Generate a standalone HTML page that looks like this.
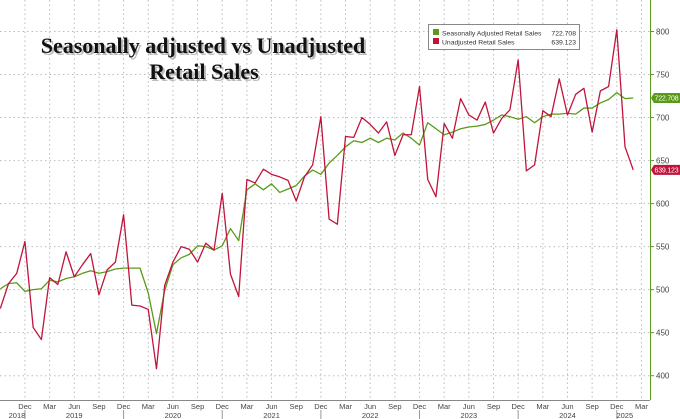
<!DOCTYPE html>
<html><head><meta charset="utf-8">
<style>
body{margin:0;background:#fff;}
svg{display:block;font-family:"Liberation Sans",sans-serif;}
</style></head>
<body>
<svg id="chart" width="680" height="419" viewBox="0 0 680 419" xmlns="http://www.w3.org/2000/svg">
<g id="grid"></g>
<g id="axes"></g>
<g id="series"></g>
<g font-family="'Liberation Serif',serif" font-weight="bold" font-size="22" text-anchor="middle">
<text x="203" y="53" fill="#bbb" transform="translate(2,2)">Seasonally adjusted vs Unadjusted</text>
<text x="203" y="53" fill="#111">Seasonally adjusted vs Unadjusted</text>
<text x="204" y="79" fill="#bbb" transform="translate(2,2)">Retail Sales</text>
<text x="204" y="79" fill="#111">Retail Sales</text>
</g>
<g>
<rect x="428.5" y="24.5" width="151" height="25" fill="#fff" stroke="#888"/>
<g>
<rect x="433" y="29" width="6" height="6" fill="#5a9a1a"/>
<text x="442" y="35.5" font-size="6.8" fill="#333">Seasonally Adjusted Retail Sales</text>
<text x="576" y="35.5" font-size="6.8" fill="#333" text-anchor="end">722.708</text>
</g>
<g>
<rect x="433" y="38" width="6" height="6" fill="#c0143c"/>
<text x="442" y="44.5" font-size="6.8" fill="#333">Unadjusted Retail Sales</text>
<text x="576" y="44.5" font-size="6.8" fill="#333" text-anchor="end">639.123</text>
</g>
</g>
</svg>
<script>
const adjusted=[501,507,508,498,500,501,511,509,513,515,519,522,519,521,524,525,525,525,496,449,499,529,537,541,551,550,546,551,571,557,616,623,616,623,613,617,621,632,639,634,647,656,666,673,671,676,671,676,674,682,676,668,694,687,680,683,687,689,690,692,697,703,701,698,701,694,701,704,704,705,704,711,711,717,721,729,722,722.708];
const unadjusted=[478,507,519,556,456,442,514,506,544,515,529,542,494,523,532,587,482,481,477,408,505,532,550,547,532,554,546,612,518,492,628,624,640,634,631,627,603,631,645,701,582,576,678,677,700,692,682,695,656,680,680,736,628,608,693,676,722,703,697,718,682,699,709,767,638,645,708,701,745,703,727,734,683,731,736,802,666,639.123];
const yTicks=[400,450,500,550,600,650,700,750,800];
const monthLabels=["Dec","Mar","Jun","Sep","Dec","Mar","Jun","Sep","Dec","Mar","Jun","Sep","Dec","Mar","Jun","Sep","Dec","Mar","Jun","Sep","Dec","Mar","Jun","Sep","Dec","Mar"];
const yearLabels=["2018","2019","2020","2021","2022","2023","2024","2025"];
const NS="http://www.w3.org/2000/svg";
function xPos(i){return 0.3+i*8.22;}
function yPos(v){return 31.5+(800-v)*0.8605;}
function mk(tag,attrs,parent){const e=document.createElementNS(NS,tag);for(const k in attrs)e.setAttribute(k,attrs[k]);parent.appendChild(e);return e;}
const grid=document.getElementById('grid'),axes=document.getElementById('axes'),series=document.getElementById('series');
yTicks.forEach(v=>{
  const l=mk('line',{x1:0,x2:650,y1:yPos(v),y2:yPos(v),stroke:'#bbb','stroke-dasharray':'1.5,3'},grid);
  
  
  const t=mk('line',{x1:650,x2:654,y1:yPos(v),y2:yPos(v),stroke:'#5a9a1a'},axes);
  
  
  const tx=mk('text',{x:656,y:yPos(v)+3,'font-size':8,fill:'#444'},axes);
  tx.textContent=v;
  
  
});
monthLabels.forEach((m,k)=>{
  const i=3+k*3,x=xPos(i);
  const g=mk('line',{x1:x,x2:x,y1:0,y2:400,stroke:'#bbb','stroke-dasharray':'1.5,3'},grid);
  
  
  const t=mk('text',{x:x,y:409,'font-size':7.5,fill:'#444','text-anchor':'middle'},axes);
  t.textContent=m;
  
  
});
yearLabels.forEach((y,k)=>{
  let x;
  if(k===0) x=xPos(3)-8;
  else if(k===7) x=xPos(75)+8;
  else x=(xPos(3+12*(k-1))+xPos(3+12*k))/2;
  const t=mk('text',{x:x,y:418,'font-size':7.5,fill:'#444','text-anchor':'middle'},axes);
  t.textContent=y;
  
  
  if(k<7){const sx=xPos(3+12*k);
    const s=mk('line',{x1:sx,x2:sx,y1:410,y2:419,stroke:'#999'},axes);
    
    }
});
const xa=mk('line',{x1:0,x2:650,y1:400.5,y2:400.5,stroke:'#888'},axes);


const ya=mk('line',{x1:650.5,x2:650.5,y1:0,y2:400,stroke:'#5a9a1a'},axes);


function line(data,color,name){
  const p=mk('polyline',{points:data.map((v,i)=>xPos(i)+','+yPos(v)).join(' '),fill:'none',stroke:color,'stroke-width':1.3,'stroke-linejoin':'round'},series);
  
  
}
line(adjusted,'#5a9a1a','adjusted-line');
line(unadjusted,'#c0143c','unadjusted-line');
function tag(v,color,name){
  const y=yPos(v);
  const g=mk('g',{},axes);
  
  
  mk('path',{d:`M651 ${y} L654 ${y-5} L680 ${y-5} L680 ${y+5} L654 ${y+5} Z`,fill:color},g);
  const t=mk('text',{x:654.5,y:y+2.6,'font-size':7,fill:'#fff','letter-spacing':'-0.2'},g);
  t.textContent=v.toFixed(3);
}
tag(adjusted[adjusted.length-1],'#5a9a1a','adjusted-last-value-tag');
tag(unadjusted[unadjusted.length-1],'#c0143c','unadjusted-last-value-tag');
</script>
</body></html>
